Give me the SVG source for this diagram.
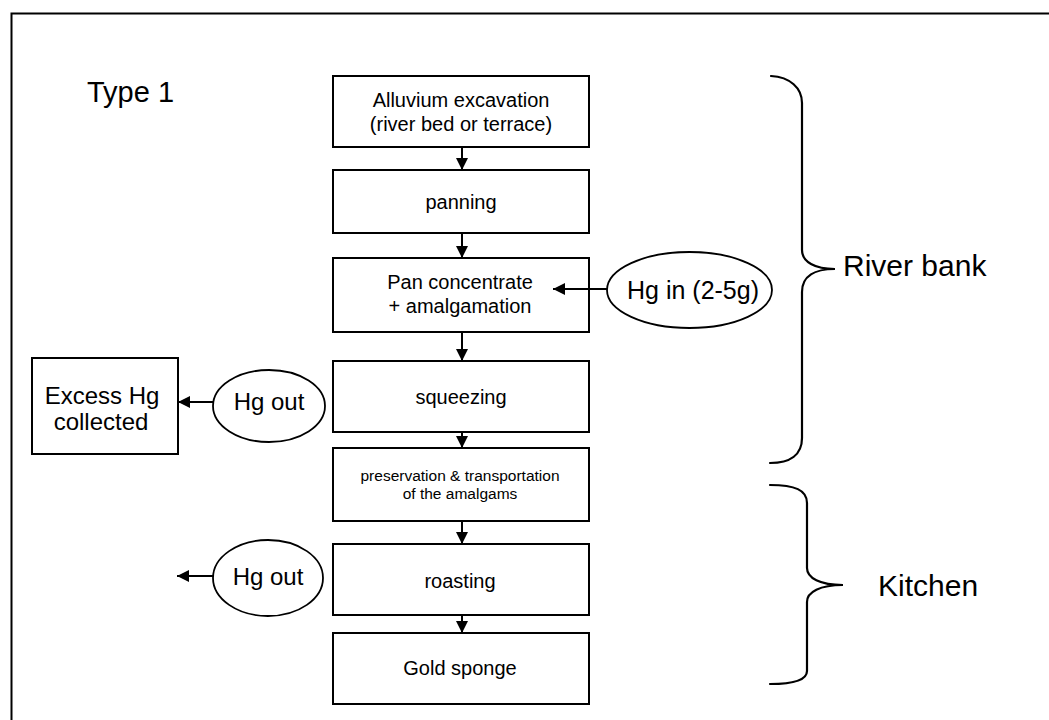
<svg xmlns="http://www.w3.org/2000/svg" width="1049" height="720" viewBox="0 0 1049 720">
<style>
.box{fill:#fff;stroke:#000;stroke-width:2}
.ell{fill:#fff;stroke:#000;stroke-width:1.8}
.ln{fill:none;stroke:#000;stroke-width:2}
.br{fill:none;stroke:#000;stroke-width:2.2;stroke-linecap:round}
text{font-family:"Liberation Sans",Arial,sans-serif;fill:#000}
.t20{font-size:20px;text-anchor:middle}
.t15{font-size:15.5px;text-anchor:middle}
.t25{font-size:25px;text-anchor:middle}
.t24{font-size:24px;text-anchor:middle}
.big{font-size:30px}
</style>
<defs>
<marker id="ah" viewBox="0 0 10 10" refX="10" refY="5" markerWidth="14" markerHeight="12" markerUnits="userSpaceOnUse" orient="auto">
<path d="M0,0 L10,5 L0,10 Z" fill="#000"/>
</marker>
</defs>
<rect x="11.5" y="13.5" width="1100" height="800" fill="none" stroke="#000" stroke-width="2"/>
<text x="87" y="102" style="font-size:29px">Type 1</text>

<g id="connectors">
<line class="ln" x1="462" y1="147" x2="462" y2="170" marker-end="url(#ah)"/>
<line class="ln" x1="462" y1="233" x2="462" y2="258" marker-end="url(#ah)"/>
<line class="ln" x1="462" y1="332" x2="462" y2="361" marker-end="url(#ah)"/>
<line class="ln" x1="462" y1="432" x2="462" y2="448" marker-end="url(#ah)"/>
<line class="ln" x1="462" y1="521" x2="462" y2="544" marker-end="url(#ah)"/>
<line class="ln" x1="462" y1="615" x2="462" y2="633" marker-end="url(#ah)"/>
</g>

<g id="n-alluvium"><rect class="box" x="333" y="76" width="256" height="71"/>
<text class="t20" x="461" y="107">Alluvium excavation</text>
<text class="t20" x="461" y="131">(river bed or terrace)</text></g>

<g id="n-panning"><rect class="box" x="333" y="170" width="256" height="63"/>
<text class="t20" x="461" y="209">panning</text></g>

<g id="n-pan-conc"><rect class="box" x="333" y="258" width="256" height="74"/>
<text class="t20" x="460" y="289">Pan concentrate</text>
<text class="t20" x="460" y="313">+ amalgamation</text></g>

<g id="n-squeezing"><rect class="box" x="333" y="361" width="256" height="71"/>
<text class="t20" x="461" y="404">squeezing</text></g>

<g id="n-preservation"><rect class="box" x="333" y="448" width="256" height="73"/>
<text class="t15" x="460" y="481">preservation &amp; transportation</text>
<text class="t15" x="460" y="499">of the amalgams</text></g>

<g id="n-roasting"><rect class="box" x="333" y="544" width="256" height="71"/>
<text class="t20" x="460" y="588">roasting</text></g>

<g id="n-gold"><rect class="box" x="333" y="633" width="256" height="71"/>
<text class="t20" x="460" y="675">Gold sponge</text></g>

<g id="n-hg-in"><ellipse class="ell" cx="689.5" cy="290" rx="82.5" ry="38"/>
<text class="t25" x="693" y="299">Hg in (2-5g)</text></g>

<g id="n-excess"><rect class="box" x="32" y="358" width="146" height="96"/>
<text class="t24" x="102" y="404">Excess Hg</text>
<text class="t24" x="101" y="430">collected</text></g>

<g id="n-hg-out-1"><ellipse class="ell" cx="269" cy="406" rx="56" ry="36"/>
<text class="t24" x="269" y="410">Hg out</text></g>

<g id="n-hg-out-2"><ellipse class="ell" cx="268" cy="578" rx="55" ry="38"/>
<text class="t24" x="268" y="585">Hg out</text></g>

<g id="side-connectors">
<line class="ln" x1="607" y1="289" x2="553" y2="289" marker-end="url(#ah)"/>
<line class="ln" x1="213" y1="402" x2="178" y2="402" marker-end="url(#ah)"/>
<line class="ln" x1="213" y1="576" x2="177" y2="576" marker-end="url(#ah)"/>
</g>

<g id="brace-river">
<path class="br" d="M771,76 C790,77 802,88 802,103 L802,250 C802,262 815,269 835,269 C815,269 802,276 802,292 L802,438 C802,455 790,463 770,463"/>
<text class="big" x="843" y="276">River bank</text>
</g>
<g id="brace-kitchen">
<path class="br" d="M770,485 C795,485 807,490 807,503 L807,568 C807,578 820,585 843,585 C820,585 807,592 807,602 L807,671 C807,680 795,684 770,684"/>
<text class="big" x="878" y="596">Kitchen</text>
</g>
</svg>
